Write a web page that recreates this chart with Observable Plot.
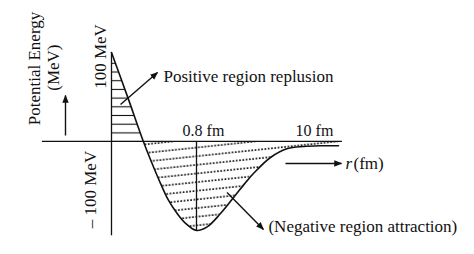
<!DOCTYPE html>
<html>
<head>
<meta charset="utf-8">
<script src="https://cdn.jsdelivr.net/npm/d3@7"></script>
<script src="https://cdn.jsdelivr.net/npm/@observablehq/plot@0.6"></script>
<style>
  html, body { margin: 0; padding: 0; background: #fff; }
  #chart svg { display: block; }
</style>
</head>
<body>
<div id="chart"></div>
<script>
// Nuclear potential energy V(r) between two nucleons (schematic)
const radius    = [0, 0.155, 0.3, 0.383, 0.461, 0.536, 0.618, 0.697, 0.8, 1.63, 2.67, 3.69, 4.75, 5.24, 6.57, 7.9, 9.14, 10.47, 11.87]; // fm
const potential = [100, 49, 0, -25, -47, -66, -81, -92, -100, -96, -81, -63, -44, -36, -18, -8, -5.6, -4.8, -4.8]; // MeV

const tickLabels = ["0.8 fm", "10 fm"];
const tickValues = [0.8, 10];
const energyLabels = ["100 MeV", "– 100 MeV"];
const regionLabels = ["Positive region replusion", "(Negative region attraction)"];

// The r axis is not to scale: the range beyond 0.8 fm is compressed.
const axisPos = d3.scaleLinear().domain([0, 0.8, 10]).range([0, 0.8, 1.9106]);

const curve = radius.map((r, i) => ({r, V: potential[i]}));
const vMin = d3.min(potential);
const rMin = radius[potential.indexOf(vMin)];
const rZero = radius[potential.indexOf(0)];

// Annotation arrows (r in fm, V in MeV): axis directions and region pointers
const arrowFrom = [[-0.433, 6.7], [0.085, 41.6], [7.74, -24.7], [3.18, -57.3]];
const arrowTo   = [[-0.433, 51.7], [0.433, 77.5], [12.1, -24.7], [6.02, -98.9]];
const arrows = arrowFrom.map((a, i) => ({x1: a[0], y1: a[1], x2: arrowTo[i][0], y2: arrowTo[i][1]}));

const ink = "#111";
const font = "Liberation Serif, Times New Roman, serif";

const txt = (s, r, V, o) => Plot.text([s], {x: axisPos(r), y: V, text: d => d, fill: ink, fontSize: 17, ...o});

const chart = Plot.plot({
  width: 474,
  height: 254,
  margin: 0,
  x: {domain: [-1.0447, 3.4165], axis: null},
  y: {domain: [-127, 158.4], axis: null},
  style: {fontFamily: font, background: "#fff", color: ink},
  marks: [
    // hatched regions under the curve
    Plot.areaY(curve.filter(d => d.r <= rZero), {x: d => axisPos(d.r), y1: 0, y2: "V", fill: "url(#hatchH)"}),
    Plot.areaY(curve.filter(d => d.r >= rZero), {x: d => axisPos(d.r), y1: 0, y2: "V", curve: "catmull-rom", fill: "url(#hatchD)"}),
    // axes
    Plot.ruleY([0], {x1: axisPos(-0.65), x2: axisPos(12.18), stroke: ink, strokeWidth: 1.3}),
    Plot.ruleX([0], {y1: 100, y2: -106, stroke: ink, strokeWidth: 1.3}),
    Plot.ruleX([axisPos(rMin)], {y1: 0, y2: vMin, stroke: ink, strokeWidth: 1.3}),
    // potential curve
    Plot.line(curve, {x: d => axisPos(d.r), y: "V", curve: "catmull-rom", stroke: ink, strokeWidth: 1.6}),
    // arrows
    Plot.link(arrows, {x1: d => axisPos(d.x1), y1: "y1", x2: d => axisPos(d.x2), y2: "y2", stroke: ink, strokeWidth: 1.4}),
    // labels
    txt("Potential Energy", -0.725, 82, {rotate: -90}),
    txt("(MeV)", -0.546, 83, {rotate: -90}),
    txt(energyLabels[0], -0.1035, 95.5, {rotate: -90}),
    txt(energyLabels[1], -0.198, -54, {rotate: -90}),
    txt(regionLabels[0], 0.489, 73, {textAnchor: "start"}),
    txt(regionLabels[1], 6.41, -95.5, {textAnchor: "start"}),
    txt(tickLabels[0], tickValues[0], 12.4, {fontSize: 16, dx: 7}),
    txt(tickLabels[1], tickValues[1], 12.4, {fontSize: 16}),
    txt("r", 12.42, -24.7, {textAnchor: "start", fontStyle: "italic"}),
    txt("(fm)", 13.04, -24.7, {textAnchor: "start"})
  ]
});

// hatch patterns and arrowhead marker
const defs = d3.select(chart).insert("defs", ":first-child");
defs.append("pattern")
  .attr("id", "hatchH").attr("patternUnits", "userSpaceOnUse")
  .attr("width", 10).attr("height", 8.7)
  .append("line").attr("x1", 0).attr("x2", 10).attr("y1", 2.4).attr("y2", 2.4)
  .attr("stroke", ink).attr("stroke-width", 1.1);
defs.append("pattern")
  .attr("id", "hatchD").attr("patternUnits", "userSpaceOnUse")
  .attr("width", 33).attr("height", 8.6).attr("patternTransform", "rotate(-6)")
  .append("line").attr("x1", 0).attr("x2", 33).attr("y1", 4).attr("y2", 4)
  .attr("stroke", ink).attr("stroke-width", 1.6).attr("stroke-dasharray", "1.7 1.6");
defs.append("marker")
  .attr("id", "head").attr("viewBox", "0 0 10 10").attr("refX", 9).attr("refY", 5)
  .attr("markerWidth", 8).attr("markerHeight", 8).attr("markerUnits", "userSpaceOnUse")
  .attr("orient", "auto")
  .append("path").attr("d", "M0,1L10,5L0,9Z").attr("fill", ink);
d3.select(chart).selectAll('g[aria-label="link"] path').attr("marker-end", "url(#head)");

document.getElementById("chart").appendChild(chart);
</script>
</body>
</html>
